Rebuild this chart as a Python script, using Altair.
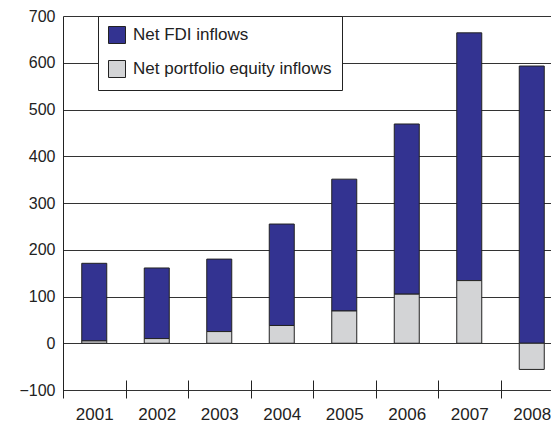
import altair as alt
import pandas as pd

years = ["2001", "2002", "2003", "2004", "2005", "2006", "2007", "2008"]
fdi = [166, 151, 155, 217, 282, 364, 530, 593]
portfolio = [5, 10, 25, 38, 69, 105, 134, -56]
series = ["Net FDI inflows", "Net portfolio equity inflows"]
colors = ["#333391", "#d3d4d6"]
y_ticks = [-100, 0, 100, 200, 300, 400, 500, 600, 700]

rows = []
for i, yr in enumerate(years):
    rows.append({"year": yr, "series": series[0], "value": fdi[i], "ord": 1})
    rows.append({"year": yr, "series": series[1], "value": portfolio[i], "ord": 0})
df = pd.DataFrame(rows)

font = "Liberation Sans, Arial, Helvetica, sans-serif"

chart = alt.Chart(df).mark_bar(width=25, stroke="#222222", strokeWidth=1).encode(
    x=alt.X("year:N", sort=years, title=None,
            scale=alt.Scale(paddingInner=0, paddingOuter=0, range=[0, 500]),
            axis=alt.Axis(domain=False, offset=-10, tickSize=18, tickBand="extent",
                          tickColor="#222222", tickWidth=1, labelPadding=8,
                          labelFontSize=17, labelColor="#222222", labelAngle=0,
                          labelFont=font, grid=False)),
    y=alt.Y("value:Q", title=None, stack="zero",
            scale=alt.Scale(domain=[-100, 700], nice=False, zero=False),
            axis=alt.Axis(values=y_ticks, ticks=False, tickSize=0, labelPadding=8,
                          labelFontSize=16, labelColor="#222222", labelFont=font,
                          domain=True, domainColor="#222222", domainWidth=1,
                          grid=True, gridColor="#333333", gridWidth=1,
                          gridOpacity=1)),
    color=alt.Color("series:N", scale=alt.Scale(domain=series, range=colors),
                    legend=alt.Legend(title=None, orient="none", legendX=35, legendY=0,
                                      strokeColor="#222222", fillColor="white",
                                      padding=10, symbolType="square", symbolSize=289,
                                      symbolStrokeColor="#222222", symbolStrokeWidth=1,
                                      symbolOpacity=1, labelLimit=0,
                                      labelFontSize=17, labelFont=font,
                                      labelColor="#222222", labelOffset=7,
                                      rowPadding=12)),
    order=alt.Order("ord:Q"),
).properties(
    width=488, height=374,
    autosize=alt.AutoSizeParams(type="none"),
    padding={"left": 55, "top": 8, "right": 0, "bottom": 40},
).configure_view(stroke=None)

chart.save("out.html", embed_options={"renderer": "svg", "actions": False})
